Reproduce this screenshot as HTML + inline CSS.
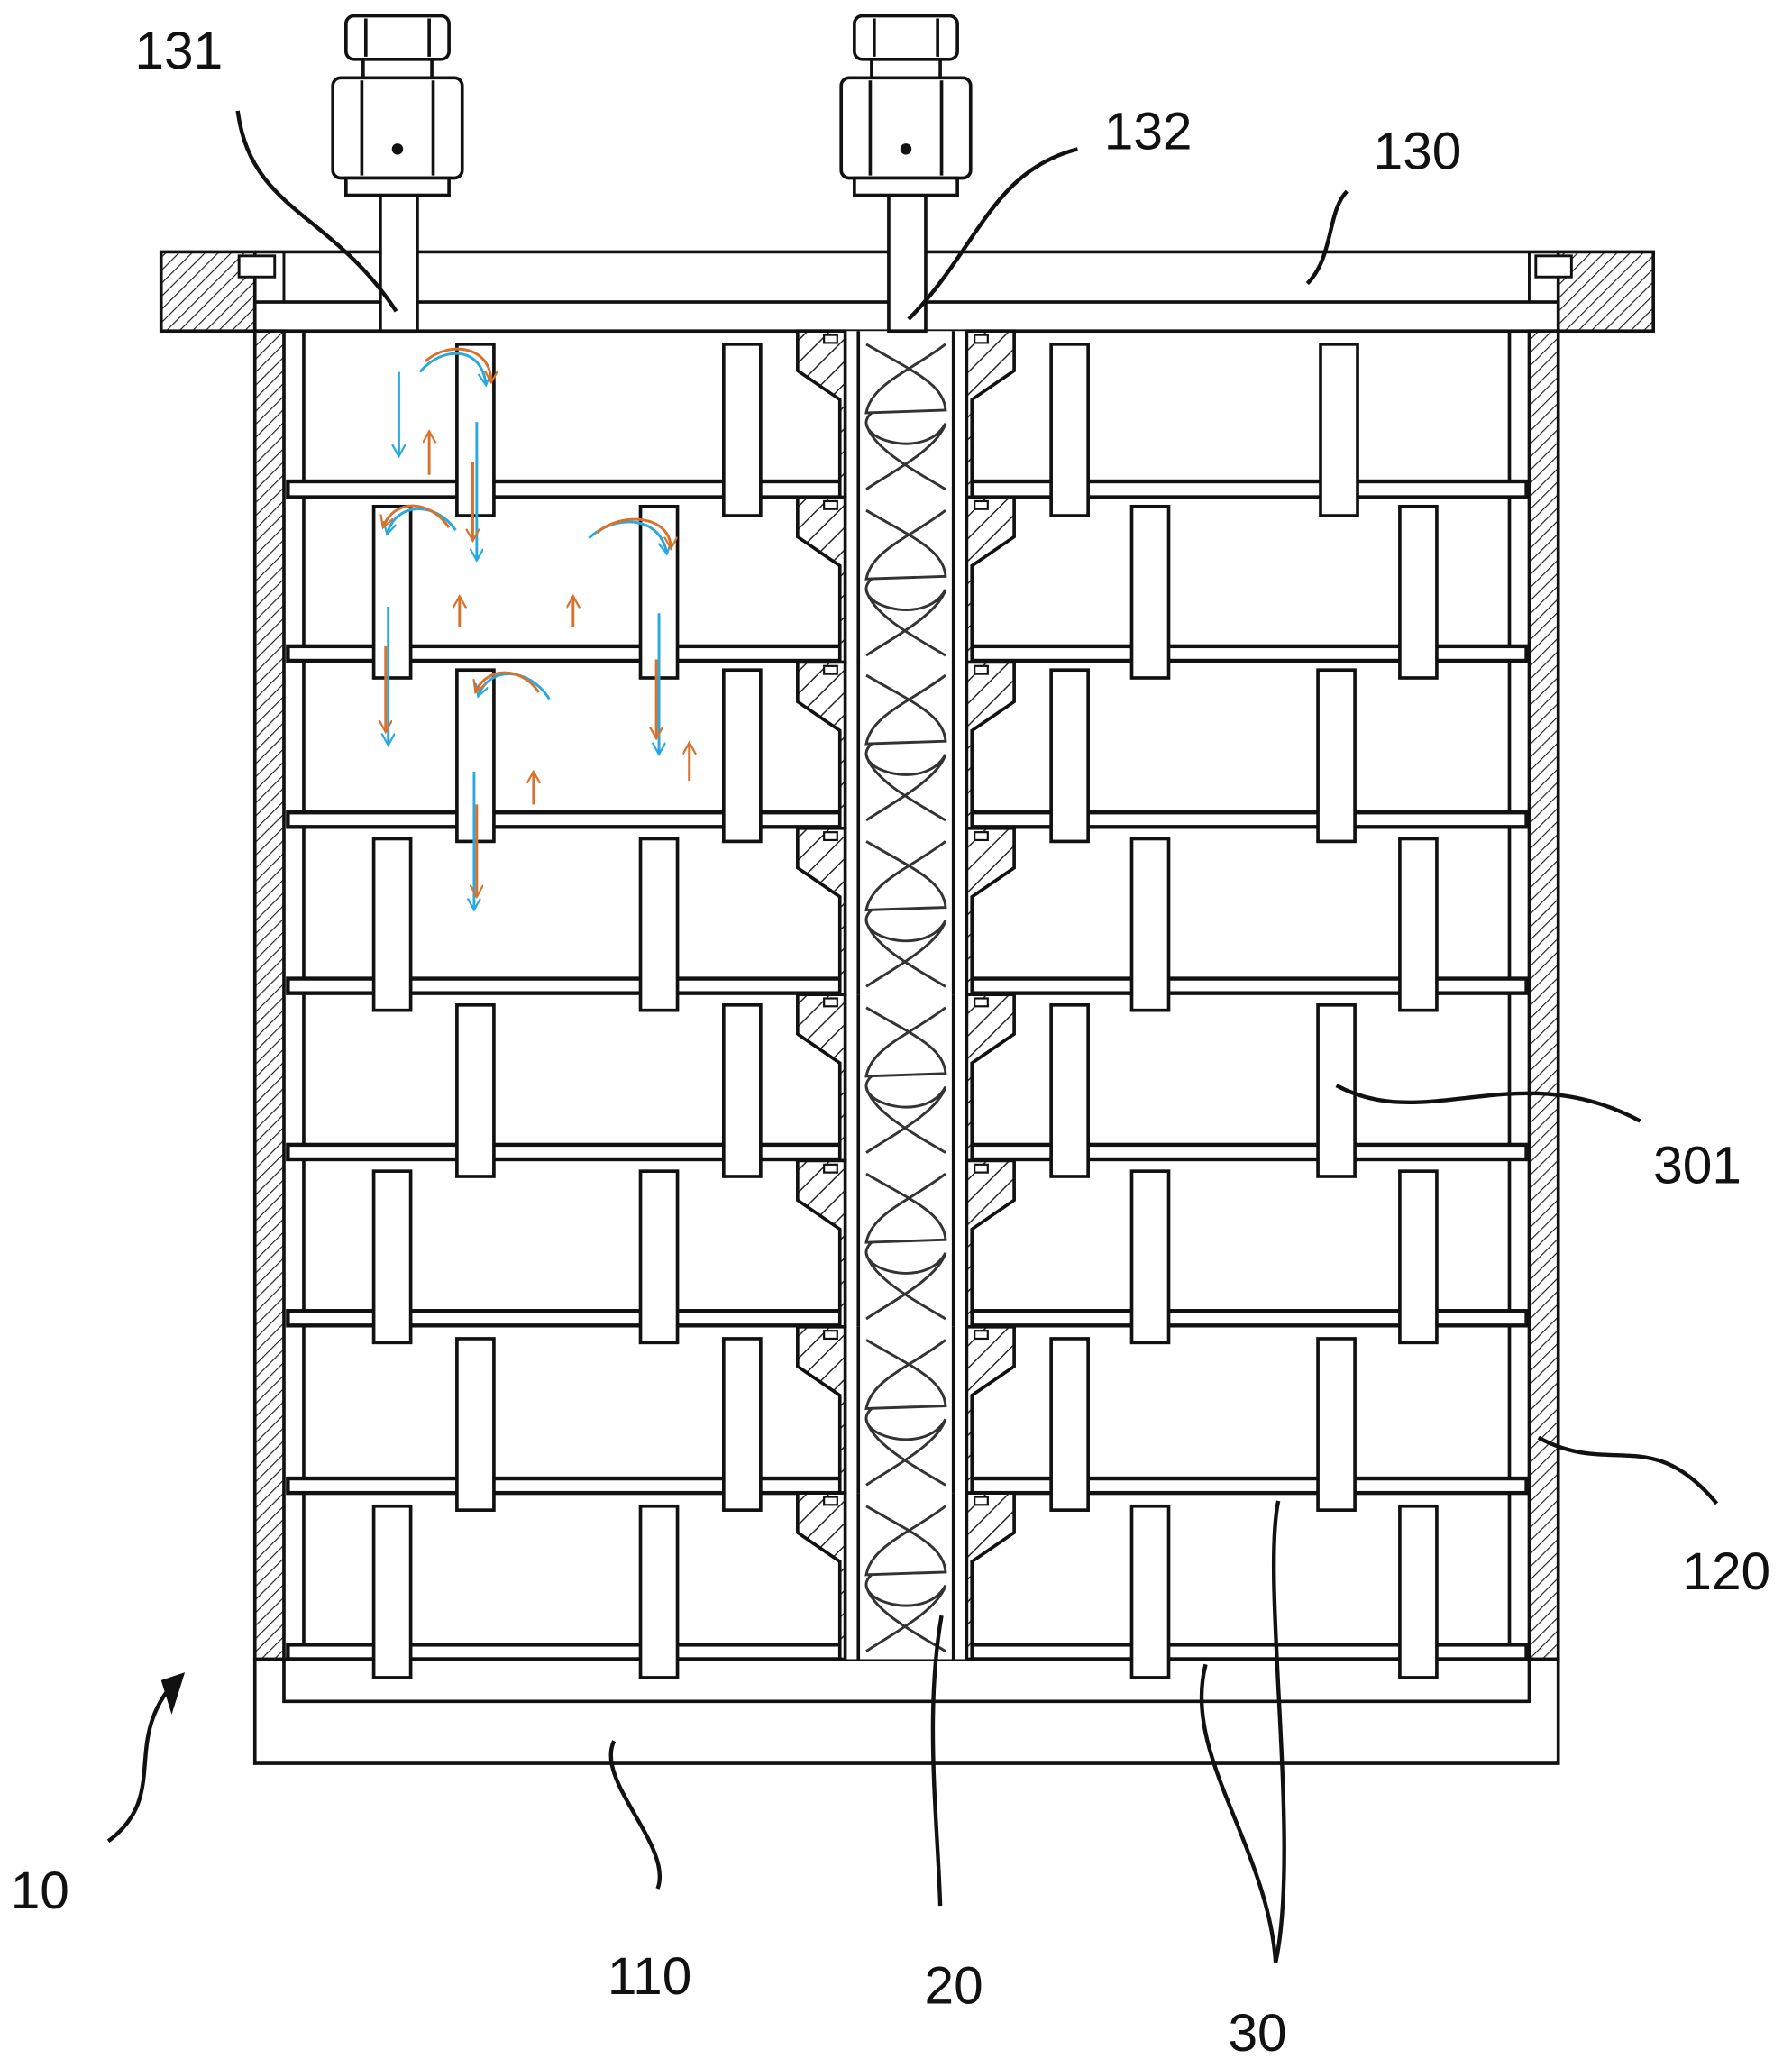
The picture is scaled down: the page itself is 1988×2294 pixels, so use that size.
<!DOCTYPE html>
<html><head><meta charset="utf-8"><style>
html,body{margin:0;padding:0;background:#fff}
svg{display:block}
text{font-family:"Liberation Sans",sans-serif;font-size:40px;fill:#111}
</style></head><body>
<svg width="1988" height="2294" viewBox="0 0 1357 1568" preserveAspectRatio="none" xmlns="http://www.w3.org/2000/svg">
<defs>
<pattern id="h" width="7" height="7" patternUnits="userSpaceOnUse" patternTransform="rotate(45)">
<rect width="7" height="7" fill="#fff"/><line x1="0" y1="0" x2="0" y2="7" stroke="#222" stroke-width="1.6"/>
</pattern>
<pattern id="h2" width="12" height="12" patternUnits="userSpaceOnUse" patternTransform="rotate(45)">
<rect width="12" height="12" fill="#fff"/><line x1="0" y1="0" x2="0" y2="12" stroke="#222" stroke-width="2"/>
</pattern>
<marker id="ab" markerWidth="12" markerHeight="12" refX="9" refY="5" orient="auto" markerUnits="userSpaceOnUse"><path d="M0,0 L9,5 L0,10" fill="none" stroke="#29a9e0" stroke-width="1.5"/></marker>
<marker id="ao" markerWidth="12" markerHeight="12" refX="9" refY="5" orient="auto" markerUnits="userSpaceOnUse"><path d="M0,0 L9,5 L0,10" fill="none" stroke="#d9712b" stroke-width="1.5"/></marker>
<g id="seg">
<path d="M604,0 L640,0 L640,126 L636,126 L636,52 L604,30 Z" fill="url(#h2)" stroke="#111" stroke-width="2.5"/>
<path d="M768,0 L732,0 L732,126 L736,126 L736,52 L768,30 Z" fill="url(#h2)" stroke="#111" stroke-width="2.5"/>
<line x1="650" y1="0" x2="650" y2="126" stroke="#111" stroke-width="2.5"/>
<line x1="722" y1="0" x2="722" y2="126" stroke="#111" stroke-width="2.5"/>
<path d="M656,10 C690,30 715,40 716,60 L656,62 C660,40 690,30 716,10" fill="none" stroke="#333" stroke-width="2"/>
<path d="M656,70 C660,90 700,110 716,120 M716,70 C710,90 670,110 656,120 M660,62 C640,80 700,100 716,70" fill="none" stroke="#333" stroke-width="2"/>
<rect x="624" y="3" width="10" height="6" fill="#fff" stroke="#111" stroke-width="1.5"/>
<rect x="738" y="3" width="10" height="6" fill="#fff" stroke="#111" stroke-width="1.5"/>
</g>
<g id="fit" fill="#fff" stroke="#111" stroke-width="2.5">
<rect x="288" y="148" width="28" height="103"/>
<rect x="262" y="12" width="78" height="33" rx="6"/>
<line x1="277" y1="14" x2="277" y2="43"/><line x1="325" y1="14" x2="325" y2="43"/>
<rect x="275" y="45" width="52" height="14"/>
<rect x="252" y="59" width="98" height="76" rx="6"/>
<line x1="274" y1="61" x2="274" y2="133"/><line x1="328" y1="61" x2="328" y2="133"/>
<rect x="262" y="135" width="78" height="13"/>
<circle cx="301" cy="113" r="3" fill="#111"/>
</g>
<rect id="b" width="28" height="130" fill="#fff" stroke="#111" stroke-width="2.5"/>
</defs>

<!-- lid -->
<rect x="122" y="191" width="71" height="60" fill="url(#h)" stroke="#111" stroke-width="2.5"/>
<rect x="1180" y="191" width="72" height="60" fill="url(#h)" stroke="#111" stroke-width="2.5"/>
<rect x="181" y="194" width="27" height="16" fill="#fff" stroke="#111" stroke-width="2"/>
<rect x="1163" y="194" width="27" height="16" fill="#fff" stroke="#111" stroke-width="2"/>
<line x1="193" y1="191" x2="1180" y2="191" stroke="#111" stroke-width="2.5"/>
<rect x="193" y="229" width="987" height="22" fill="#fff" stroke="#111" stroke-width="2.5"/>
<line x1="215" y1="191" x2="215" y2="229" stroke="#111" stroke-width="2"/>
<line x1="1158" y1="191" x2="1158" y2="229" stroke="#111" stroke-width="2"/>

<!-- walls -->
<rect x="193" y="251" width="22" height="1007" fill="url(#h)" stroke="#111" stroke-width="2.5"/>
<rect x="1158" y="251" width="22" height="1007" fill="url(#h)" stroke="#111" stroke-width="2.5"/>
<line x1="230" y1="251" x2="230" y2="1250" stroke="#111" stroke-width="2.5"/>
<line x1="1143" y1="251" x2="1143" y2="1250" stroke="#111" stroke-width="2.5"/>
<!-- bottom -->
<rect x="193" y="1258" width="987" height="79" fill="#fff" stroke="#111" stroke-width="2.5"/>
<path d="M215,1258 L215,1290 L1158,1290 L1158,1258" fill="none" stroke="#111" stroke-width="2.5"/>

<!-- plates -->
<g fill="#fff" stroke="#111" stroke-width="3">
<rect x="218" y="365" width="938" height="12"/>
<rect x="218" y="490" width="938" height="11"/>
<rect x="218" y="616" width="938" height="11"/>
<rect x="218" y="742" width="938" height="11"/>
<rect x="218" y="868" width="938" height="11"/>
<rect x="218" y="994" width="938" height="11"/>
<rect x="218" y="1121" width="938" height="11"/>
<rect x="218" y="1247" width="938" height="11"/>
</g>

<!-- center column -->
<rect x="638" y="251" width="96" height="1007" fill="#fff"/>
<use href="#seg" y="251"/><use href="#seg" y="377"/><use href="#seg" y="502"/><use href="#seg" y="628"/>
<use href="#seg" y="754"/><use href="#seg" y="880"/><use href="#seg" y="1006"/><use href="#seg" y="1132"/>

<!-- baffles -->
<use href="#b" x="346" y="261"/><use href="#b" x="548" y="261"/><use href="#b" x="796" y="261"/><use href="#b" x="1000" y="261"/>
<use href="#b" x="283" y="384"/><use href="#b" x="485" y="384"/><use href="#b" x="857" y="384"/><use href="#b" x="1060" y="384"/>
<use href="#b" x="346" y="508"/><use href="#b" x="548" y="508"/><use href="#b" x="796" y="508"/><use href="#b" x="998" y="508"/>
<use href="#b" x="283" y="636"/><use href="#b" x="485" y="636"/><use href="#b" x="857" y="636"/><use href="#b" x="1060" y="636"/>
<use href="#b" x="346" y="762"/><use href="#b" x="548" y="762"/><use href="#b" x="796" y="762"/><use href="#b" x="998" y="762"/>
<use href="#b" x="283" y="888"/><use href="#b" x="485" y="888"/><use href="#b" x="857" y="888"/><use href="#b" x="1060" y="888"/>
<use href="#b" x="346" y="1015"/><use href="#b" x="548" y="1015"/><use href="#b" x="796" y="1015"/><use href="#b" x="998" y="1015"/>
<use href="#b" x="283" y="1142"/><use href="#b" x="485" y="1142"/><use href="#b" x="857" y="1142"/><use href="#b" x="1060" y="1142"/>

<!-- fittings -->
<use href="#fit"/>
<use href="#fit" x="385"/>

<!-- flow arrows -->
<g fill="none" stroke-width="2">
<line x1="302" y1="282" x2="302" y2="346" stroke="#29a9e0" marker-end="url(#ab)"/>
<line x1="325" y1="360" x2="325" y2="327" stroke="#d9712b" marker-end="url(#ao)"/>
<path d="M318,282 C335,262 365,262 368,292" stroke="#29a9e0" marker-end="url(#ab)"/>
<path d="M322,274 C340,258 372,262 372,290" stroke="#d9712b" marker-end="url(#ao)"/>
<line x1="361" y1="320" x2="361" y2="425" stroke="#29a9e0" marker-end="url(#ab)"/>
<line x1="358" y1="350" x2="358" y2="410" stroke="#d9712b" marker-end="url(#ao)"/>
<path d="M345,402 C330,380 300,380 293,405" stroke="#29a9e0" marker-end="url(#ab)"/>
<path d="M340,400 C325,378 298,378 290,400" stroke="#d9712b" marker-end="url(#ao)"/>
<line x1="348" y1="475" x2="348" y2="452" stroke="#d9712b" marker-end="url(#ao)"/>
<line x1="434" y1="475" x2="434" y2="452" stroke="#d9712b" marker-end="url(#ao)"/>
<path d="M446,408 C465,390 500,390 505,420" stroke="#29a9e0" marker-end="url(#ab)"/>
<path d="M452,404 C470,388 508,390 508,416" stroke="#d9712b" marker-end="url(#ao)"/>
<line x1="294" y1="460" x2="294" y2="565" stroke="#29a9e0" marker-end="url(#ab)"/>
<line x1="292" y1="490" x2="292" y2="555" stroke="#d9712b" marker-end="url(#ao)"/>
<line x1="499" y1="465" x2="499" y2="572" stroke="#29a9e0" marker-end="url(#ab)"/>
<line x1="497" y1="500" x2="497" y2="560" stroke="#d9712b" marker-end="url(#ao)"/>
<line x1="522" y1="592" x2="522" y2="563" stroke="#d9712b" marker-end="url(#ao)"/>
<path d="M416,530 C400,505 370,505 362,528" stroke="#29a9e0" marker-end="url(#ab)"/>
<path d="M408,525 C395,505 368,505 360,525" stroke="#d9712b" marker-end="url(#ao)"/>
<line x1="404" y1="610" x2="404" y2="585" stroke="#d9712b" marker-end="url(#ao)"/>
<line x1="359" y1="585" x2="359" y2="690" stroke="#29a9e0" marker-end="url(#ab)"/>
<line x1="361" y1="610" x2="361" y2="680" stroke="#d9712b" marker-end="url(#ao)"/>
</g>

<!-- leaders -->
<g fill="none" stroke="#111" stroke-width="3">
<path d="M180,84 C190,160 250,160 300,236"/>
<path d="M816,113 C750,130 740,190 688,242"/>
<path d="M1020,145 C1005,160 1010,195 990,215"/>
<path d="M1242,850 C1150,800 1080,860 1012,823"/>
<path d="M1300,1140 C1250,1080 1220,1120 1165,1090"/>
<path d="M82,1396 C130,1360 90,1320 135,1272"/>
<path d="M498,1432 C510,1400 450,1350 465,1320"/>
<path d="M712,1445 C710,1380 700,1300 713,1225"/>
<path d="M966,1488 C960,1400 895,1330 913,1262"/>
<path d="M966,1488 C985,1400 955,1200 968,1138"/>
</g>
<path d="M122,1274 L140,1268 L130,1300 Z" fill="#111"/>

<!-- labels -->
<text x="102" y="52">131</text>
<text x="836" y="113">132</text>
<text x="1040" y="128">130</text>
<text x="1252" y="897">301</text>
<text x="1274" y="1205">120</text>
<text x="8" y="1447">10</text>
<text x="460" y="1512">110</text>
<text x="700" y="1519">20</text>
<text x="930" y="1555">30</text>
</svg>
</body></html>
